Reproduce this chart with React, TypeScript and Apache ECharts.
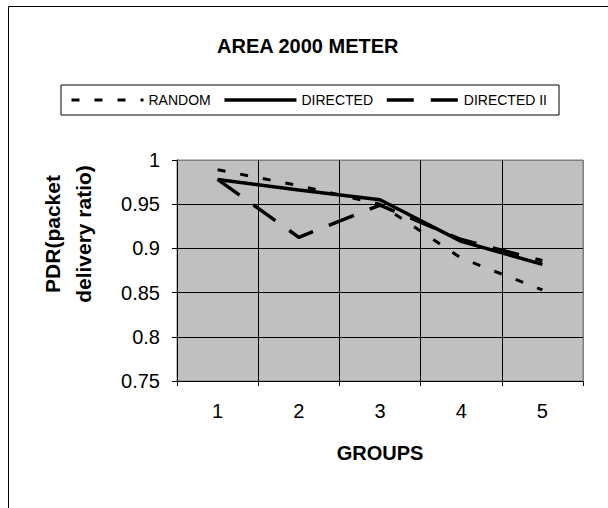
import React, { useEffect, useRef } from "react";
import * as echarts from "echarts";

const categories = ["1", "2", "3", "4", "5"];
const seriesNames = ["RANDOM", "DIRECTED", "DIRECTED II"];
const randomValues = [0.989, 0.971, 0.95, 0.889, 0.853];
const directedValues = [0.978, 0.966, 0.955, 0.908, 0.882];
const directed2Values = [0.978, 0.9125, 0.949, 0.91, 0.886];
const yMin = 0.75;
const yMax = 1;
const yInterval = 0.05;
const chartTitle = "AREA 2000 METER";
const xTitle = "GROUPS";
const yTitle = "PDR(packet\ndelivery ratio)";

const FONT = "'Liberation Sans', Arial, sans-serif";

export default function App() {
  const ref = useRef<HTMLDivElement>(null);
  useEffect(() => {
    const chart = echarts.init(ref.current!, null, { renderer: "svg" });
    chart.setOption({
      animation: false,
      backgroundColor: "#ffffff",
      title: {
        text: chartTitle,
        left: 217,
        top: 36,
        padding: 0,
        textStyle: { fontFamily: FONT, fontSize: 20, fontWeight: "bold", color: "#000" },
      },
      legend: {
        data: seriesNames,
        left: 61,
        top: 85,
        orient: "horizontal",
        padding: [8, 12, 8, 9],
        borderColor: "#000",
        borderWidth: 1,
        itemWidth: 72,
        itemHeight: 14,
        itemGap: 12,
        itemStyle: { opacity: 0 },
        lineStyle: { width: "inherit" },
        textStyle: { fontFamily: FONT, fontSize: 14, color: "#000" },
      },
      grid: {
        left: 177,
        right: 25,
        top: 160,
        bottom: 127,
        show: true,
        backgroundColor: "#c0c0c0",
        borderColor: "#808080",
        borderWidth: 1,
      },
      xAxis: {
        type: "category",
        data: categories,
        boundaryGap: true,
        name: xTitle,
        nameLocation: "middle",
        nameGap: 62,
        nameTextStyle: { fontFamily: FONT, fontSize: 20, fontWeight: "bold", color: "#000" },
        axisLine: { show: true, lineStyle: { color: "#000", width: 1 } },
        axisTick: { show: true, length: 5, inside: false, lineStyle: { color: "#000" } },
        axisLabel: { margin: 20, fontFamily: FONT, fontSize: 20, color: "#000" },
        splitLine: {
          show: true,
          interval: 0,
          lineStyle: { color: ["#000", "#000", "#000", "#000", "#000", "#808080"], width: 1 },
        },
      },
      yAxis: {
        type: "value",
        min: yMin,
        max: yMax,
        interval: yInterval,
        axisLine: { show: true, lineStyle: { color: "#000", width: 1 } },
        axisTick: { show: true, length: 5, inside: false, lineStyle: { color: "#000" } },
        axisLabel: { margin: 17, fontFamily: FONT, fontSize: 20, color: "#000" },
        splitLine: {
          show: true,
          lineStyle: { color: ["#000", "#000", "#000", "#000", "#000", "#808080"], width: 1 },
        },
      },
      graphic: [
        {
          type: "rect",
          silent: true,
          z: -1,
          shape: { x: 8.5, y: 6.5, width: 700, height: 600 },
          style: { fill: "none", stroke: "#000", lineWidth: 1 },
        },
        {
          type: "text",
          x: 68,
          y: 234,
          rotation: Math.PI / 2,
          style: {
            text: yTitle,
            fontFamily: FONT,
            fontSize: 21,
            fontWeight: "bold",
            lineHeight: 31,
            align: "center",
            verticalAlign: "middle",
            fill: "#000",
          },
        },
      ],
      series: [
        {
          name: seriesNames[0],
          type: "line",
          data: randomValues,
          symbol: "none",
          lineStyle: { color: "#000", width: 3, type: [8, 15] },
          itemStyle: { color: "#000" },
        },
        {
          name: seriesNames[1],
          type: "line",
          data: directedValues,
          symbol: "none",
          lineStyle: { color: "#000", width: 3.5, type: "solid" },
          itemStyle: { color: "#000" },
        },
        {
          name: seriesNames[2],
          type: "line",
          data: directed2Values,
          symbol: "none",
          lineStyle: { color: "#000", width: 3.5, type: [27, 17] },
          itemStyle: { color: "#000" },
        },
      ],
    });
    return () => chart.dispose();
  }, []);
  return (
    <div
      ref={ref}
      style={{ position: "fixed", left: 0, top: 0, width: 608, height: 508, background: "#fff" }}
    />
  );
}
